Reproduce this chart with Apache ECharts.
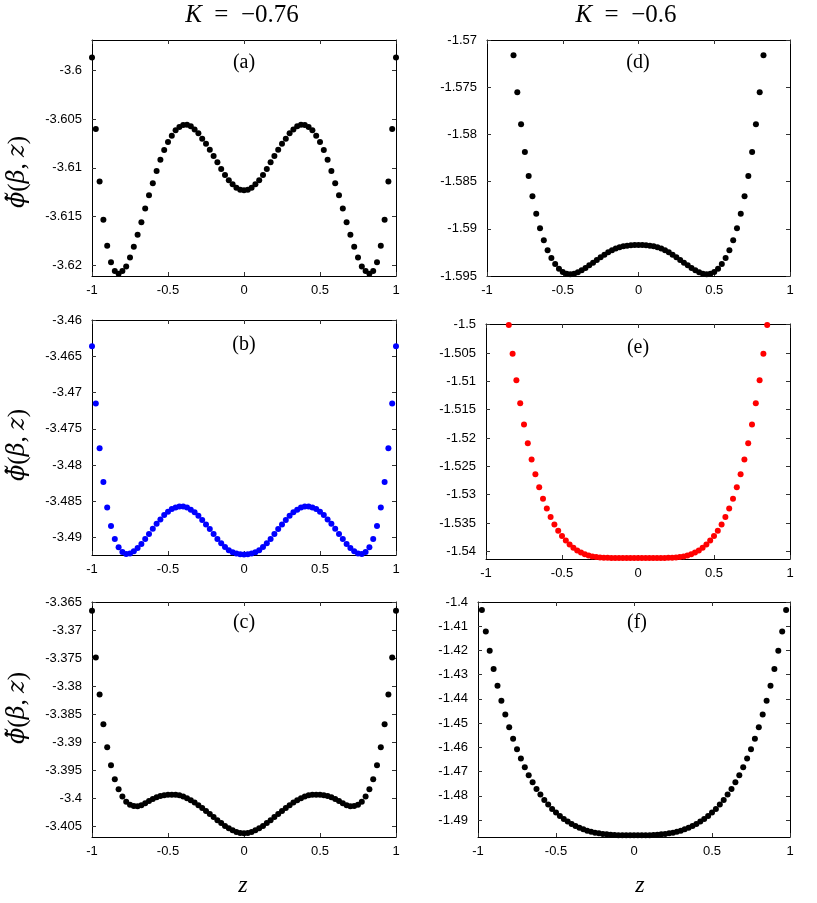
<!DOCTYPE html>
<html>
<head>
<meta charset="utf-8">
<script src="https://cdn.jsdelivr.net/npm/echarts@6/dist/echarts.min.js"></script>
<style>
html,body{margin:0;padding:0;background:#fff;}
#chart{width:817px;height:903px;}
</style>
</head>
<body>
<div id="chart"></div>
<script>
// ---------------- DATA ----------------
const zLeft = [-1,-0.975,-0.95,-0.925,-0.9,-0.875,-0.85,-0.825,-0.8,-0.775,-0.75,-0.725,-0.7,-0.675,-0.65,-0.625,-0.6,-0.575,-0.55,-0.525,-0.5,-0.475,-0.45,-0.425,-0.4,-0.375,-0.35,-0.325,-0.3,-0.275,-0.25,-0.225,-0.2,-0.175,-0.15,-0.125,-0.1,-0.075,-0.05,-0.025,0,0.025,0.05,0.075,0.1,0.125,0.15,0.175,0.2,0.225,0.25,0.275,0.3,0.325,0.35,0.375,0.4,0.425,0.45,0.475,0.5,0.525,0.55,0.575,0.6,0.625,0.65,0.675,0.7,0.725,0.75,0.775,0.8,0.825,0.85,0.875,0.9,0.925,0.95,0.975,1];

const phiA = [-3.59871,-3.60603,-3.61141,-3.61530,-3.61796,-3.61966,-3.62055,-3.62082,-3.62055,-3.62010,-3.61918,-3.61806,-3.61683,-3.61557,-3.61417,-3.61281,-3.61158,-3.61032,-3.60917,-3.60818,-3.60736,-3.60671,-3.60617,-3.60583,-3.60562,-3.60559,-3.60576,-3.60607,-3.60647,-3.60702,-3.60753,-3.60814,-3.60879,-3.60944,-3.61012,-3.61073,-3.61128,-3.61169,-3.61203,-3.61223,-3.61230,
-3.61223,-3.61203,-3.61169,-3.61128,-3.61073,-3.61012,-3.60944,-3.60879,-3.60814,-3.60753,-3.60702,-3.60647,-3.60607,-3.60576,-3.60559,-3.60562,-3.60583,-3.60617,-3.60671,-3.60736,-3.60818,-3.60917,-3.61032,-3.61158,-3.61281,-3.61417,-3.61557,-3.61683,-3.61806,-3.61918,-3.62010,-3.62055,-3.62082,-3.62055,-3.61966,-3.61796,-3.61530,-3.61141,-3.60603,-3.59871];

const phiB = [-3.46362,-3.47151,-3.47766,-3.48234,-3.48583,-3.48839,-3.49018,-3.49133,-3.49197,-3.49225,-3.49220,-3.49188,-3.49142,-3.49087,-3.49018,-3.48950,-3.48876,-3.48807,-3.48748,-3.48688,-3.48642,-3.48606,-3.48583,-3.48569,-3.48569,-3.48583,-3.48615,-3.48651,-3.48697,-3.48757,-3.48817,-3.48881,-3.48950,-3.49018,-3.49078,-3.49128,-3.49174,-3.49202,-3.49220,-3.49229,-3.49232,
-3.49229,-3.49220,-3.49202,-3.49174,-3.49128,-3.49078,-3.49018,-3.48950,-3.48881,-3.48817,-3.48757,-3.48697,-3.48651,-3.48615,-3.48583,-3.48569,-3.48569,-3.48583,-3.48606,-3.48642,-3.48688,-3.48748,-3.48807,-3.48876,-3.48950,-3.49018,-3.49087,-3.49142,-3.49188,-3.49220,-3.49225,-3.49197,-3.49133,-3.49018,-3.48839,-3.48583,-3.48234,-3.47766,-3.47151,-3.46362];

const phiC = [-3.36655,-3.37488,-3.38149,-3.38679,-3.39089,-3.39411,-3.39661,-3.39839,-3.39970,-3.40060,-3.40113,-3.40137,-3.40143,-3.40125,-3.40089,-3.40048,-3.40012,-3.39982,-3.39958,-3.39946,-3.39935,-3.39935,-3.39935,-3.39946,-3.39970,-3.40000,-3.40036,-3.40077,-3.40125,-3.40173,-3.40226,-3.40280,-3.40333,-3.40393,-3.40440,-3.40494,-3.40536,-3.40571,-3.40601,-3.40619,-3.40625,
-3.40619,-3.40601,-3.40571,-3.40536,-3.40494,-3.40440,-3.40393,-3.40333,-3.40280,-3.40226,-3.40173,-3.40125,-3.40077,-3.40036,-3.40000,-3.39970,-3.39946,-3.39935,-3.39935,-3.39935,-3.39946,-3.39958,-3.39982,-3.40012,-3.40048,-3.40089,-3.40125,-3.40143,-3.40137,-3.40113,-3.40060,-3.39970,-3.39839,-3.39661,-3.39411,-3.39089,-3.38679,-3.38149,-3.37488,-3.36655];

const zD = [-0.825,-0.8,-0.775,-0.75,-0.725,-0.7,-0.675,-0.65,-0.625,-0.6,-0.575,-0.55,-0.525,-0.5,-0.475,-0.45,-0.425,-0.4,-0.375,-0.35,-0.325,-0.3,-0.275,-0.25,-0.225,-0.2,-0.175,-0.15,-0.125,-0.1,-0.075,-0.05,-0.025,0,0.025,0.05,0.075,0.1,0.125,0.15,0.175,0.2,0.225,0.25,0.275,0.3,0.325,0.35,0.375,0.4,0.425,0.45,0.475,0.5,0.525,0.55,0.575,0.6,0.625,0.65,0.675,0.7,0.725,0.75,0.775,0.8,0.825];
const phiD = [-1.57162,-1.57554,-1.57893,-1.58186,-1.58441,-1.58656,-1.58840,-1.58995,-1.59122,-1.59228,-1.59309,-1.59373,-1.59422,-1.59458,-1.59475,-1.59482,-1.59475,-1.59461,-1.59440,-1.59415,-1.59387,-1.59359,-1.59331,-1.59302,-1.59274,-1.59249,-1.59228,-1.59210,-1.59196,-1.59186,-1.59179,-1.59175,-1.59172,-1.59172,
-1.59172,-1.59175,-1.59179,-1.59186,-1.59196,-1.59210,-1.59228,-1.59249,-1.59274,-1.59302,-1.59331,-1.59359,-1.59387,-1.59415,-1.59440,-1.59461,-1.59475,-1.59482,-1.59475,-1.59458,-1.59422,-1.59373,-1.59309,-1.59228,-1.59122,-1.58995,-1.58840,-1.58656,-1.58441,-1.58186,-1.57893,-1.57554,-1.57162];

const zE = [-0.85,-0.825,-0.8,-0.775,-0.75,-0.725,-0.7,-0.675,-0.65,-0.625,-0.6,-0.575,-0.55,-0.525,-0.5,-0.475,-0.45,-0.425,-0.4,-0.375,-0.35,-0.325,-0.3,-0.275,-0.25,-0.225,-0.2,-0.175,-0.15,-0.125,-0.1,-0.075,-0.05,-0.025,0,0.025,0.05,0.075,0.1,0.125,0.15,0.175,0.2,0.225,0.25,0.275,0.3,0.325,0.35,0.375,0.4,0.425,0.45,0.475,0.5,0.525,0.55,0.575,0.6,0.625,0.65,0.675,0.7,0.725,0.75,0.775,0.8,0.825,0.85];
const phiE = [-1.50005,-1.50511,-1.50981,-1.51387,-1.51763,-1.52092,-1.52380,-1.52638,-1.52867,-1.53073,-1.53244,-1.53396,-1.53526,-1.53637,-1.53731,-1.53808,-1.53878,-1.53937,-1.53984,-1.54019,-1.54049,-1.54072,-1.54090,-1.54101,-1.54107,-1.54112,-1.54115,-1.54117,-1.54118,-1.54119,-1.54119,-1.54119,-1.54119,-1.54119,-1.54119,
-1.54119,-1.54119,-1.54119,-1.54119,-1.54119,-1.54118,-1.54117,-1.54115,-1.54112,-1.54107,-1.54101,-1.54090,-1.54072,-1.54049,-1.54019,-1.53984,-1.53937,-1.53878,-1.53808,-1.53731,-1.53637,-1.53526,-1.53396,-1.53244,-1.53073,-1.52867,-1.52638,-1.52380,-1.52092,-1.51763,-1.51387,-1.50981,-1.50511,-1.50005];

const zF = [-0.975,-0.95,-0.925,-0.9,-0.875,-0.85,-0.825,-0.8,-0.775,-0.75,-0.725,-0.7,-0.675,-0.65,-0.625,-0.6,-0.575,-0.55,-0.525,-0.5,-0.475,-0.45,-0.425,-0.4,-0.375,-0.35,-0.325,-0.3,-0.275,-0.25,-0.225,-0.2,-0.175,-0.15,-0.125,-0.1,-0.075,-0.05,-0.025,0,0.025,0.05,0.075,0.1,0.125,0.15,0.175,0.2,0.225,0.25,0.275,0.3,0.325,0.35,0.375,0.4,0.425,0.45,0.475,0.5,0.525,0.55,0.575,0.6,0.625,0.65,0.675,0.7,0.725,0.75,0.775,0.8,0.825,0.85,0.875,0.9,0.925,0.95,0.975];
const phiF = [-1.40331,-1.41213,-1.42012,-1.42770,-1.43459,-1.44079,-1.44644,-1.45168,-1.45650,-1.46078,-1.46463,-1.46822,-1.47153,-1.47442,-1.47718,-1.47952,-1.48173,-1.48366,-1.48545,-1.48696,-1.48834,-1.48958,-1.49068,-1.49165,-1.49248,-1.49316,-1.49385,-1.49440,-1.49482,-1.49523,-1.49551,-1.49578,-1.49592,-1.49606,-1.49620,-1.49627,-1.49632,-1.49634,-1.49635,-1.49635,
-1.49635,-1.49634,-1.49632,-1.49627,-1.49620,-1.49606,-1.49592,-1.49578,-1.49551,-1.49523,-1.49482,-1.49440,-1.49385,-1.49316,-1.49248,-1.49165,-1.49068,-1.48958,-1.48834,-1.48696,-1.48545,-1.48366,-1.48173,-1.47952,-1.47718,-1.47442,-1.47153,-1.46822,-1.46463,-1.46078,-1.45650,-1.45168,-1.44644,-1.44079,-1.43459,-1.42770,-1.42012,-1.41213,-1.40331];

const xTicks = [-1,-0.5,0,0.5,1];
const yTicksA = [-3.62,-3.615,-3.61,-3.605,-3.6];
const yTicksB = [-3.49,-3.485,-3.48,-3.475,-3.47,-3.465,-3.46];
const yTicksC = [-3.405,-3.4,-3.395,-3.39,-3.385,-3.38,-3.375,-3.37,-3.365];
const yTicksD = [-1.595,-1.59,-1.585,-1.58,-1.575,-1.57];
const yTicksE = [-1.54,-1.535,-1.53,-1.525,-1.52,-1.515,-1.51,-1.505,-1.5];
const yTicksF = [-1.49,-1.48,-1.47,-1.46,-1.45,-1.44,-1.43,-1.42,-1.41,-1.4];

const yRangeA = [-3.62106,-3.59693];
const yRangeB = [-3.49239,-3.46];
const yRangeC = [-3.4069,-3.365];
const yRangeD = [-1.595,-1.57];
const yRangeE = [-1.54135,-1.49988];
const yRangeF = [-1.49703,-1.4];

const panelLabels = ['(a)','(b)','(c)','(d)','(e)','(f)'];
const columnTitleK = ['−0.76','−0.6'];

// ---------------- LAYOUT ----------------
const panels = [
  {z: zLeft, y: phiA, ticks: yTicksA, range: yRangeA, label: panelLabels[0], color:'#000000', grid:{left:92, top:40, width:304, height:236}, lab:[244,63]},
  {z: zLeft, y: phiB, ticks: yTicksB, range: yRangeB, label: panelLabels[1], color:'#0000ff', grid:{left:92, top:320, width:304, height:235}, lab:[244,345]},
  {z: zLeft, y: phiC, ticks: yTicksC, range: yRangeC, label: panelLabels[2], color:'#000000', grid:{left:92, top:602, width:304, height:235}, lab:[244,623]},
  {z: zD, y: phiD, ticks: yTicksD, range: yRangeD, label: panelLabels[3], color:'#000000', grid:{left:487, top:40, width:303, height:236}, lab:[638,63]},
  {z: zE, y: phiE, ticks: yTicksE, range: yRangeE, label: panelLabels[4], color:'#ff0000', grid:{left:486, top:324, width:304, height:235}, lab:[638,348]},
  {z: zF, y: phiF, ticks: yTicksF, range: yRangeF, label: panelLabels[5], color:'#000000', grid:{left:478, top:602, width:312, height:235}, lab:[637,623]}
];

const tickFont = {fontFamily:'Liberation Sans', fontSize:13, color:'#000'};
const grids = [], xAxes = [], yAxes = [], series = [], graphics = [];

panels.forEach((p, i) => {
  grids.push(Object.assign({show:false}, p.grid));
  const axLine = {show:true, onZero:false, lineStyle:{color:'#000', width:1}};
  const tick = {show:true, inside:true, length:4, lineStyle:{color:'#333', width:1}};
  xAxes.push({type:'value', gridIndex:i, min:-1, max:1, interval:0.5, position:'bottom',
    axisLine:axLine, axisTick:tick, splitLine:{show:false},
    axisLabel:Object.assign({show:true, margin:8}, tickFont)});
  xAxes.push({type:'value', gridIndex:i, min:-1, max:1, interval:0.5, position:'top',
    axisLine:axLine, axisTick:tick, splitLine:{show:false}, axisLabel:{show:false}});
  yAxes.push({type:'value', gridIndex:i, min:p.range[0], max:p.range[1], position:'left',
    axisLine:axLine, axisTick:Object.assign({customValues:p.ticks}, tick), splitLine:{show:false},
    axisLabel:Object.assign({show:true, margin:10, customValues:p.ticks}, tickFont)});
  yAxes.push({type:'value', gridIndex:i, min:p.range[0], max:p.range[1], position:'right',
    axisLine:axLine, axisTick:Object.assign({customValues:p.ticks}, tick), splitLine:{show:false},
    axisLabel:{show:false}});
  series.push({type:'scatter', xAxisIndex:2*i, yAxisIndex:2*i, symbol:'circle', symbolSize:6,
    itemStyle:{color:p.color, opacity:1}, silent:true,
    data:p.z.map((z, k) => [z, p.y[k]])});
  graphics.push({type:'text', x:p.lab[0], y:p.lab[1], style:{text:p.label, textAlign:'center', textVerticalAlign:'middle',
    font:'20px "Liberation Serif"', fill:'#000'}});
});

// column titles
[[242,15,columnTitleK[0]],[626,15,columnTitleK[1]]].forEach(t => {
  graphics.push({type:'text', x:t[0], y:t[1], style:{
    text:'{i|K}\u2002=\u2002' + t[2], textAlign:'center', textVerticalAlign:'middle',
    font:'25px "Liberation Serif"', fill:'#000',
    rich:{i:{fontStyle:'italic', fontFamily:'Liberation Serif', fontSize:25}}}});
});
// y-axis labels
[172,445,708].forEach(yc => {
  graphics.push({type:'text', x:18, y:yc, rotation:Math.PI/2, style:{
    text:'{i|ϕ̃}{n|(}{i|β}{n|, }{i|z}{n|)}', textAlign:'center', textVerticalAlign:'middle',
    font:'25px "Liberation Serif"', fill:'#000',
    rich:{i:{fontStyle:'italic', fontFamily:'DejaVu Serif', fontSize:24}, n:{fontFamily:'Liberation Serif', fontSize:25}}}});
});
// z labels
[243,640].forEach(xc => {
  graphics.push({type:'text', x:xc, y:886, style:{text:'z', textAlign:'center', textVerticalAlign:'middle',
    font:'italic 24px "Liberation Serif"', fill:'#000'}});
});

const chart = echarts.init(document.getElementById('chart'), null, {renderer:'canvas'});
chart.setOption({
  animation:false,
  backgroundColor:'#fff',
  grid:grids, xAxis:xAxes, yAxis:yAxes, series:series, graphic:graphics
});
</script>
</body>
</html>
